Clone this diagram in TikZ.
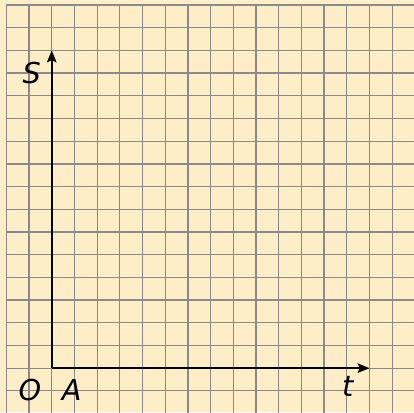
\documentclass[tikz,border=0pt]{standalone}
\usepackage{fontspec}
\setsansfont{DejaVu Sans}
\usepackage{tikz}
\usetikzlibrary{arrows.meta}
\definecolor{paper}{RGB}{254,238,200}
\definecolor{gridline}{RGB}{120,120,130}
\tikzset{lbl/.style={font=\fontsize{18}{20}\selectfont\sffamily\itshape, inner sep=0pt}}

\begin{document}
\begin{tikzpicture} [x=.5cm, y=.5cm]
\useasboundingbox[fill=paper] (-2.28,-1.94) rectangle (15.96,16.22);
\clip (-2.28,-1.94) rectangle (15.96,16.22);
\draw[gridline, step=.5cm, line width=.8pt, opacity=.85] (-2,-3) grid (17,16);
\coordinate (orig) at (0,0);
\coordinate (tend) at (14,0);
\coordinate (send) at (0,14);
\draw[black, line width=1.3pt, -{Stealth[length=7.5pt,width=6pt,inset=1.5pt]}] (orig)--(tend);
\draw[black, line width=1.3pt, -{Stealth[length=7.5pt,width=6pt,inset=1.5pt]}] (orig)--(send);
\node[lbl] (S) at (-0.88,13.0) {S};
\node[lbl] (O) at (-0.96,-0.97) {O};
\node[lbl] (A) at (0.88,-0.97) {A};
\node[lbl] (t) at (13.04,-0.79) {t};
\end{tikzpicture}
\end{document}
